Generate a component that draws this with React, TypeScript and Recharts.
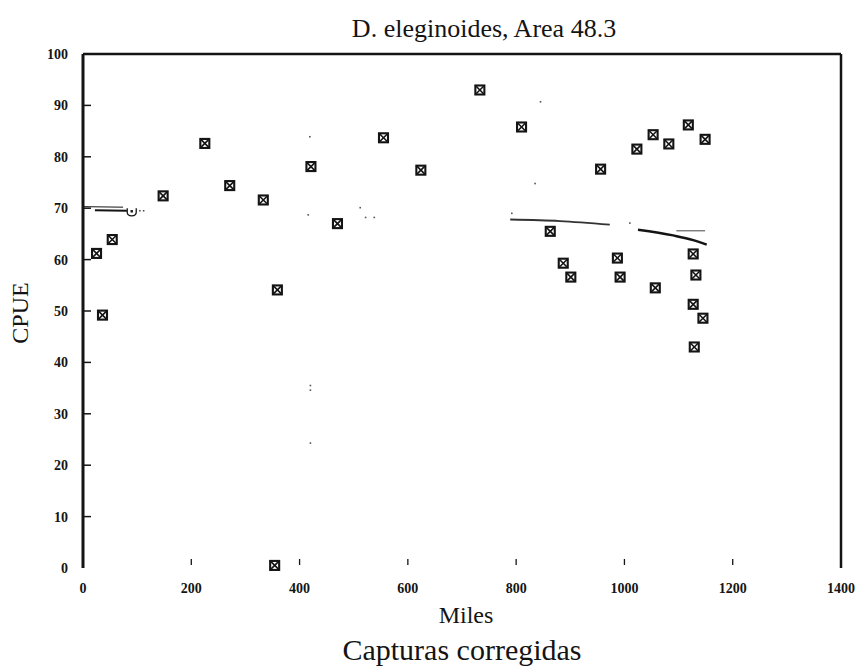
import { ComposedChart, XAxis, YAxis, Scatter, Line, ReferenceLine } from "recharts";

const xTicks = [0, 200, 400, 600, 800, 1000, 1200, 1400];
const yTicks = [0, 10, 20, 30, 40, 50, 60, 70, 80, 90, 100];

// CPUE per haul vs corrected catch
const catchPoints = [
  { x: 25, y: 61.2 },
  { x: 36, y: 49.2 },
  { x: 54, y: 63.9 },
  { x: 148, y: 72.4 },
  { x: 225, y: 82.6 },
  { x: 271, y: 74.4 },
  { x: 333, y: 71.6 },
  { x: 359, y: 54.1 },
  { x: 354, y: 0.5 },
  { x: 421, y: 78.1 },
  { x: 470, y: 67.0 },
  { x: 555, y: 83.7 },
  { x: 624, y: 77.4 },
  { x: 733, y: 93.0 },
  { x: 810, y: 85.8 },
  { x: 863, y: 65.5 },
  { x: 887, y: 59.3 },
  { x: 901, y: 56.6 },
  { x: 956, y: 77.6 },
  { x: 987, y: 60.3 },
  { x: 992, y: 56.6 },
  { x: 1023, y: 81.5 },
  { x: 1053, y: 84.3 },
  { x: 1057, y: 54.5 },
  { x: 1082, y: 82.5 },
  { x: 1118, y: 86.2 },
  { x: 1127, y: 61.1 },
  { x: 1132, y: 57.0 },
  { x: 1127, y: 51.3 },
  { x: 1145, y: 48.6 },
  { x: 1149, y: 83.4 },
  { x: 1129, y: 43.0 },
];

const fadedPoint = [{ x: 90, y: 69.4 }];

// fitted curve, only parts of it survived the scan
const trendLeftThin = [
  { x: 0, y: 70.3 },
  { x: 74, y: 70.2 },
];
const trendLeft = [
  { x: 22, y: 69.6 },
  { x: 81, y: 69.5 },
];
const trendRight = [
  { x: 789, y: 67.8 },
  { x: 881, y: 67.5 },
  { x: 973, y: 66.8 },
];
const trendTail = [
  { x: 1025, y: 65.8 },
  { x: 1090, y: 64.7 },
  { x: 1127, y: 63.8 },
  { x: 1152, y: 62.9 },
];
const trendFlat = [
  { x: 1096, y: 65.6 },
  { x: 1149, y: 65.6 },
];

// stray specks left in the scan
const specks = [
  { x: 419, y: 83.9 },
  { x: 420, y: 35.5 },
  { x: 420, y: 34.6 },
  { x: 420, y: 24.3 },
  { x: 416, y: 68.7 },
  { x: 512, y: 70.1 },
  { x: 522, y: 68.2 },
  { x: 538, y: 68.2 },
  { x: 792, y: 69.0 },
  { x: 1010, y: 67.1 },
  { x: 835, y: 74.8 },
  { x: 845, y: 90.7 },
  { x: 105, y: 69.5 },
  { x: 112, y: 69.5 },
];

const INK = "#141414";
const FONT = "Liberation Serif, Times New Roman, serif";

const BoxMarker = (props: any) => {
  const { cx, cy } = props;
  if (cx == null || cy == null) return null;
  const h = 4.5;
  return (
    <g>
      <rect x={cx - h} y={cy - h} width={h * 2} height={h * 2} fill="#fff" stroke={INK} strokeWidth={2.1} />
      <line x1={cx - h} y1={cy - h} x2={cx + h} y2={cy + h} stroke={INK} strokeWidth={1.6} />
      <line x1={cx - h} y1={cy + h} x2={cx + h} y2={cy - h} stroke={INK} strokeWidth={1.6} />
    </g>
  );
};

const FadedMarker = (props: any) => {
  const { cx, cy } = props;
  if (cx == null || cy == null) return null;
  return (
    <g>
      <path
        d={`M${cx - 4.5},${cy - 3} L${cx - 4.5},${cy + 1} Q${cx - 4.5},${cy + 4.5} ${cx},${cy + 4.5} Q${cx + 4.5},${cy + 4.5} ${cx + 4.5},${cy + 1} L${cx + 4.5},${cy - 3}`}
        fill="none"
        stroke={INK}
        strokeWidth={1.3}
      />
      <rect x={cx - 1.2} y={cy - 1.2} width={2.4} height={2.4} fill={INK} />
    </g>
  );
};

const Speck = (props: any) => {
  const { cx, cy } = props;
  if (cx == null || cy == null) return null;
  return <rect x={cx - 0.8} y={cy - 0.8} width={1.6} height={1.6} fill="#555" />;
};

const tickText = { fontFamily: FONT, fontSize: 14, fontWeight: 700 };

const YTick = (props: any) => {
  const { x, y, payload } = props;
  const v = payload.value;
  return (
    <g>
      {v > 0 && v < 100 && (
        <line x1={x + 15} x2={x + 23} y1={y} y2={y} stroke={INK} strokeWidth={1.5} />
      )}
      <text x={x} y={y} dy="0.36em" textAnchor="end" style={tickText} fill={INK}>
        {v}
      </text>
    </g>
  );
};

const XTick = (props: any) => {
  const { x, y, payload } = props;
  const v = payload.value;
  return (
    <g>
      {v > 0 && v < 1400 && (
        <line x1={x} x2={x} y1={y - 29} y2={y - 23} stroke={INK} strokeWidth={1.3} />
      )}
      <text x={x} y={y} dy="0.36em" textAnchor="middle" style={tickText} fill={INK}>
        {v}
      </text>
    </g>
  );
};

export default function App() {
  return (
    <div style={{ position: "absolute", left: 0, top: 0, width: 859, height: 669, background: "#fff" }}>
      <ComposedChart width={859} height={669} margin={{ top: 54, right: 18, bottom: 71, left: 0 }}>
        <XAxis
          type="number"
          dataKey="x"
          domain={[0, 1400]}
          ticks={xTicks}
          interval={0}
          height={30}
          axisLine={false}
          tickLine={false}
          tickSize={0}
          tickMargin={20}
          tick={<XTick />}
        />
        <YAxis
          type="number"
          dataKey="y"
          domain={[0, 100]}
          ticks={yTicks}
          interval={0}
          width={83}
          axisLine={{ stroke: INK, strokeWidth: 3 }}
          tickLine={false}
          tickSize={0}
          tickMargin={15}
          tick={<YTick />}
        />
        <ReferenceLine y={100} stroke={INK} strokeWidth={2.5} />
        <ReferenceLine x={1400} stroke={INK} strokeWidth={2.5} />
        <Line data={trendLeftThin} dataKey="y" stroke={INK} strokeWidth={1} dot={false} isAnimationActive={false} />
        <Line data={trendLeft} dataKey="y" stroke={INK} strokeWidth={2} dot={false} isAnimationActive={false} />
        <Line data={trendRight} dataKey="y" type="monotone" stroke="#333" strokeWidth={1.8} dot={false} isAnimationActive={false} />
        <Line data={trendTail} dataKey="y" type="monotone" stroke={INK} strokeWidth={2.4} dot={false} isAnimationActive={false} />
        <Line data={trendFlat} dataKey="y" stroke="#444" strokeWidth={1} dot={false} isAnimationActive={false} />
        <Scatter data={specks} shape={<Speck />} isAnimationActive={false} />
        <Scatter data={fadedPoint} shape={<FadedMarker />} isAnimationActive={false} />
        <Scatter data={catchPoints} shape={<BoxMarker />} isAnimationActive={false} />
      </ComposedChart>
      <svg
        width={859}
        height={669}
        style={{ position: "absolute", left: 0, top: 0, pointerEvents: "none", fontFamily: FONT }}
      >
        <text x={484} y={37} textAnchor="middle" fontSize={26} fill={INK}>
          D. eleginoides, Area 48.3
        </text>
        <text transform="translate(28,313) rotate(-90)" textAnchor="middle" fontSize={24} fill={INK}>
          CPUE
        </text>
        <text x={466} y={623} textAnchor="middle" fontSize={24} fill={INK}>
          Miles
        </text>
        <text x={462} y={660} textAnchor="middle" fontSize={30} fill={INK}>
          Capturas corregidas
        </text>
      </svg>
    </div>
  );
}
